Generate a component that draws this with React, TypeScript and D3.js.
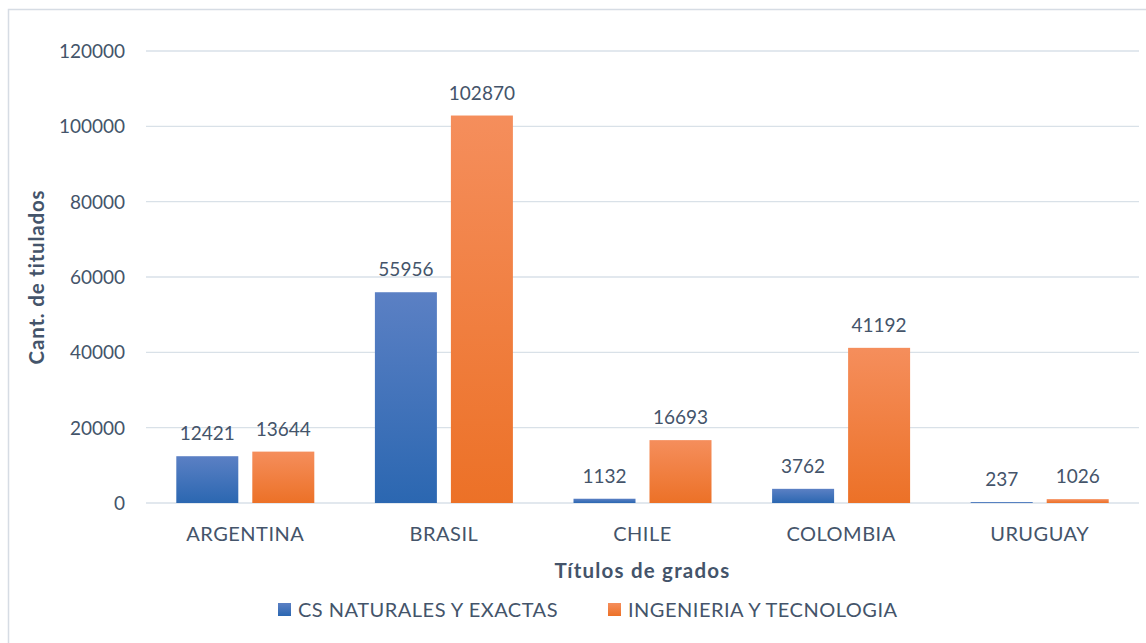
import React, { useEffect, useRef } from "react";
import * as d3 from "d3";

const countries = ["ARGENTINA", "BRASIL", "CHILE", "COLOMBIA", "URUGUAY"];
const naturales = [12421, 55956, 1132, 3762, 237];
const ingenieria = [13644, 102870, 16693, 41192, 1026];
const yTicks = [0, 20000, 40000, 60000, 80000, 100000, 120000];
const seriesNames = ["CS NATURALES Y EXACTAS", "INGENIERIA Y TECNOLOGIA"];

const W = 1146;
const H = 643;
const FONT = "Lato, 'Open Sans', sans-serif";
const TEXT = "#44546A";

const App = () => {
  const ref = useRef<SVGSVGElement>(null);

  useEffect(() => {
    const svg = d3.select(ref.current);
    svg.selectAll("*").remove();

    const left = 146;
    const right = 1139;
    const top = 51;
    const bottom = 503;

    const defs = svg.append("defs");
    const grads = [
      { id: "gBlue", top: "#5B80C4", bottom: "#2B67B1" },
      { id: "gOrange", top: "#F58E5C", bottom: "#EC7127" },
    ];
    grads.forEach((g) => {
      const lg = defs
        .append("linearGradient")
        .attr("id", g.id)
        .attr("x1", 0)
        .attr("y1", 0)
        .attr("x2", 0)
        .attr("y2", 1);
      lg.append("stop").attr("offset", "0%").attr("stop-color", g.top);
      lg.append("stop").attr("offset", "100%").attr("stop-color", g.bottom);
    });

    // chart frame (only top & left visible)
    svg
      .append("path")
      .attr("d", `M8.5,${H + 5} V9.5 H${W + 5}`)
      .attr("fill", "none")
      .attr("stroke", "#D6DCE4")
      .attr("stroke-width", 1.5);

    const x = d3.scaleBand().domain(countries).range([left, right]);
    const y = d3.scaleLinear().domain([0, 120000]).range([bottom, top]);

    const barW = 62;
    const gap = 14;

    // gridlines
    svg
      .append("g")
      .selectAll("line")
      .data(yTicks)
      .enter()
      .append("line")
      .attr("x1", left)
      .attr("x2", right)
      .attr("y1", (d) => y(d))
      .attr("y2", (d) => y(d))
      .attr("stroke", "#D9E1E8")
      .attr("stroke-width", 1.3);

    // y tick labels
    svg
      .append("g")
      .selectAll("text")
      .data(yTicks)
      .enter()
      .append("text")
      .attr("x", 125)
      .attr("y", (d) => y(d) + 7)
      .attr("text-anchor", "end")
      .attr("font-family", FONT)
      .attr("font-size", 19)
      .attr("fill", TEXT)
      .text((d) => d);

    const series = [
      { values: naturales, fill: "url(#gBlue)", off: -(gap / 2 + barW) },
      { values: ingenieria, fill: "url(#gOrange)", off: gap / 2 },
    ];

    series.forEach((s) => {
      const g = svg.append("g");
      const cx = (c: string) => (x(c) as number) + x.bandwidth() / 2;
      g.selectAll("rect")
        .data(countries)
        .enter()
        .append("rect")
        .attr("x", (c) => cx(c) + s.off)
        .attr("width", barW)
        .attr("y", (c, i) => y(s.values[i]))
        .attr("height", (c, i) => bottom - y(s.values[i]))
        .attr("fill", s.fill);
      g.selectAll("text")
        .data(countries)
        .enter()
        .append("text")
        .attr("x", (c) => cx(c) + s.off + barW / 2)
        .attr("y", (c, i) => y(s.values[i]) - 16)
        .attr("text-anchor", "middle")
        .attr("font-family", FONT)
        .attr("font-size", 19)
        .attr("fill", TEXT)
        .text((c, i) => s.values[i]);
    });

    // category labels
    svg
      .append("g")
      .selectAll("text")
      .data(countries)
      .enter()
      .append("text")
      .attr("x", (c) => (x(c) as number) + x.bandwidth() / 2)
      .attr("y", 541)
      .attr("text-anchor", "middle")
      .attr("font-family", FONT)
      .attr("font-size", 20)
      .attr("letter-spacing", 0.5)
      .attr("fill", TEXT)
      .text((c) => c);

    // axis titles
    svg
      .append("text")
      .attr("x", (left + right) / 2)
      .attr("y", 578)
      .attr("text-anchor", "middle")
      .attr("font-family", FONT)
      .attr("font-size", 20.5)
      .attr("font-weight", "bold")
      .attr("letter-spacing", 1.2)
      .attr("fill", TEXT)
      .text("Títulos de grados");

    svg
      .append("text")
      .attr("transform", `translate(44, ${(top + bottom) / 2}) rotate(-90)`)
      .attr("text-anchor", "middle")
      .attr("font-family", FONT)
      .attr("font-size", 20.5)
      .attr("font-weight", "bold")
      .attr("letter-spacing", 0.8)
      .attr("fill", TEXT)
      .text("Cant. de titulados");

    // legend
    const legend = [
      { name: seriesNames[0], fill: "url(#gBlue)", x: 278 },
      { name: seriesNames[1], fill: "url(#gOrange)", x: 608 },
    ];
    legend.forEach((l) => {
      svg
        .append("rect")
        .attr("x", l.x)
        .attr("y", 603)
        .attr("width", 13)
        .attr("height", 13)
        .attr("fill", l.fill);
      svg
        .append("text")
        .attr("x", l.x + 20)
        .attr("y", 617)
        .attr("font-family", FONT)
        .attr("font-size", 20)
        .attr("letter-spacing", 0.5)
        .attr("fill", TEXT)
        .text(l.name);
    });
  }, []);

  return (
    <svg
      ref={ref}
      width={W}
      height={H}
      style={{ position: "absolute", left: 0, top: 0, background: "#fff" }}
    />
  );
};

export default App;
